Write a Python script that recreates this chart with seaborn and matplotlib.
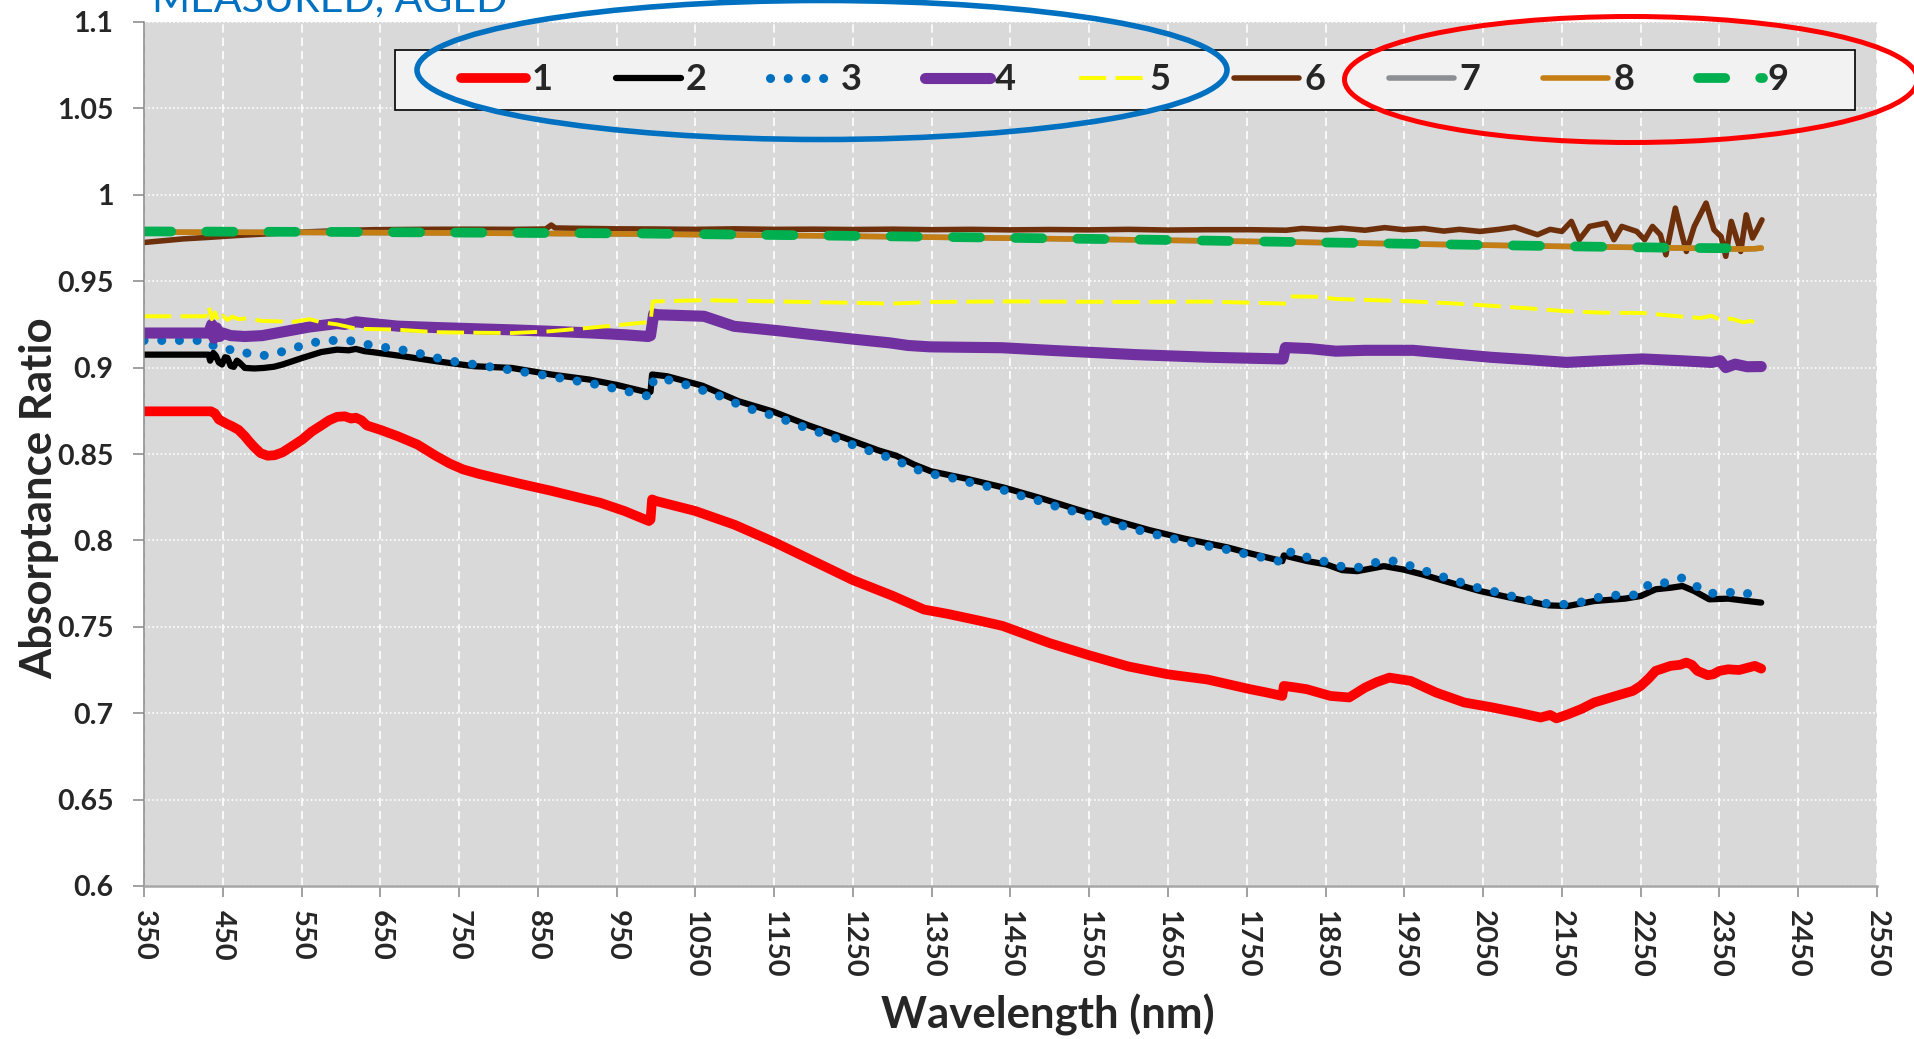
import matplotlib
matplotlib.use("Agg")
import matplotlib.pyplot as plt
import seaborn as sns
from matplotlib.patches import Ellipse, Rectangle

# ---- data ----
wl1 = [350, 435, 440, 445, 449, 455, 462, 470, 478, 484, 490, 498, 507, 516, 526, 538, 551, 563, 575,
       585, 595, 605, 613, 619, 626, 633, 650, 672, 697, 721, 738, 755, 775, 794, 830, 867, 900, 929,
       960, 991, 993, 995, 1000, 1050, 1100, 1150, 1200, 1250, 1300, 1340, 1370, 1411, 1440, 1470,
       1500, 1550, 1600, 1650, 1700, 1754, 1775, 1795, 1797, 1810, 1826, 1856, 1880, 1900, 1915, 1931,
       1958, 1990, 2026, 2060, 2094, 2123, 2135, 2143, 2158, 2175, 2191, 2215, 2240, 2250, 2260, 2269,
       2288, 2300, 2308, 2315, 2322, 2335, 2342, 2350, 2361, 2375, 2385, 2395, 2403]
ab1 = [0.8747, 0.8747, 0.8735, 0.8700, 0.8690, 0.8675, 0.8660, 0.8640, 0.8603, 0.8570, 0.8540, 0.8505,
       0.8490, 0.8493, 0.8510, 0.8545, 0.8584, 0.8630, 0.8665, 0.8695, 0.8715, 0.8718, 0.8705, 0.8710,
       0.8695, 0.8665, 0.8640, 0.8603, 0.8555, 0.8488, 0.8445, 0.8411, 0.8385, 0.8364, 0.8325, 0.8287,
       0.8250, 0.8218, 0.8170, 0.8112, 0.8120, 0.8237, 0.8228, 0.8170, 0.8090, 0.7990, 0.7880, 0.7770,
       0.7680, 0.7600, 0.7575, 0.7535, 0.7505, 0.7455, 0.7405, 0.7335, 0.7270, 0.7225, 0.7195, 0.7139,
       0.7120, 0.7100, 0.7158, 0.7150, 0.7139, 0.7100, 0.7091, 0.7148, 0.7180, 0.7206, 0.7187, 0.7120,
       0.7062, 0.7035, 0.7004, 0.6975, 0.6990, 0.6970, 0.6994, 0.7025, 0.7062, 0.7095, 0.7129, 0.7158,
       0.7200, 0.7245, 0.7274, 0.7280, 0.7293, 0.7280, 0.7245, 0.7220, 0.7225, 0.7245, 0.7254, 0.7250,
       0.7262, 0.7274, 0.7258]

wl2 = [350, 432, 434, 438, 441, 445, 449, 453, 456, 460, 464, 468, 471, 478, 490, 502, 515, 526, 551,
       575, 595, 610, 619, 630, 641, 680, 721, 769, 817, 867, 915, 950, 991, 993, 995, 1014, 1059, 1105,
       1149, 1194, 1238, 1283, 1305, 1327, 1349, 1396, 1442, 1488, 1534, 1579, 1626, 1671, 1725, 1754,
       1795, 1797, 1827, 1851, 1871, 1890, 1924, 1948, 1973, 1997, 2046, 2094, 2133, 2157, 2191, 2230,
       2250, 2269, 2288, 2303, 2318, 2337, 2361, 2386, 2403]
ab2 = [0.9075, 0.9075, 0.9040, 0.9085, 0.9070, 0.9030, 0.9018, 0.9060, 0.9056, 0.9010, 0.9004, 0.9040,
       0.9030, 0.8998, 0.8995, 0.8998, 0.9005, 0.9018, 0.9056, 0.9090, 0.9104, 0.9100, 0.9108, 0.9095,
       0.9089, 0.9065, 0.9037, 0.9008, 0.8998, 0.8960, 0.8931, 0.8900, 0.8855, 0.8860, 0.8960, 0.8950,
       0.8895, 0.8805, 0.8745, 0.8665, 0.8595, 0.8520, 0.8490, 0.8440, 0.8400, 0.8355, 0.8305, 0.8245,
       0.8180, 0.8120, 0.8060, 0.8010, 0.7960, 0.7925, 0.7880, 0.7913, 0.7880, 0.7861, 0.7828, 0.7822,
       0.7851, 0.7832, 0.7803, 0.7770, 0.7707, 0.7659, 0.7624, 0.7620, 0.7649, 0.7663, 0.7678, 0.7717,
       0.7726, 0.7736, 0.7707, 0.7659, 0.7663, 0.7649, 0.7640]

wl3 = [350, 430, 440, 455, 470, 480, 490, 502, 520, 541, 565, 585, 610, 641, 689, 734, 784, 853, 925,
       991, 993, 997, 1014, 1037, 1059, 1082, 1105, 1126, 1149, 1171, 1194, 1216, 1238, 1260, 1283,
       1305, 1327, 1349, 1373, 1396, 1420, 1442, 1465, 1488, 1511, 1534, 1557, 1579, 1602, 1626, 1649,
       1671, 1702, 1725, 1748, 1772, 1796, 1798, 1807, 1828, 1850, 1871, 1894, 1917, 1939, 1961, 1983,
       2005, 2028, 2049, 2072, 2093, 2115, 2136, 2159, 2181, 2202, 2223, 2245, 2262, 2283, 2302, 2319,
       2335, 2344, 2361, 2382, 2399]
ab3 = [0.9157, 0.9157, 0.9120, 0.9104, 0.9104, 0.9085, 0.9070, 0.9070, 0.9085, 0.9114, 0.9145, 0.9157,
       0.9157, 0.9127, 0.9094, 0.9042, 0.9008, 0.8960, 0.8902, 0.8834, 0.8850, 0.8931, 0.8931, 0.8902,
       0.8869, 0.8834, 0.8786, 0.8751, 0.8722, 0.8684, 0.8645, 0.8612, 0.8574, 0.8535, 0.8500, 0.8464,
       0.8416, 0.8385, 0.8365, 0.8338, 0.8313, 0.8290, 0.8256, 0.8227, 0.8192, 0.8163, 0.8130, 0.8101,
       0.8072, 0.8043, 0.8018, 0.7995, 0.7966, 0.7947, 0.7922, 0.7899, 0.7874, 0.7890, 0.7938, 0.7900,
       0.7877, 0.7848, 0.7844, 0.7877, 0.7881, 0.7848, 0.7813, 0.7780, 0.7749, 0.7717, 0.7697, 0.7668,
       0.7649, 0.7630, 0.7630, 0.7649, 0.7678, 0.7684, 0.7684, 0.7751, 0.7755, 0.7782, 0.7740, 0.7694,
       0.7694, 0.7701, 0.7684, 0.7722]

wl4 = [350, 432, 436, 439, 442, 446, 450, 460, 478, 500, 530, 560, 595, 605, 619, 640, 672, 720, 769,
       820, 867, 920, 960, 990, 993, 997, 1002, 1061, 1099, 1156, 1200, 1250, 1297, 1320, 1348, 1439,
       1500, 1609, 1700, 1796, 1799, 1830, 1863, 1900, 1961, 2010, 2059, 2110, 2156, 2200, 2253, 2300,
       2340, 2351, 2358, 2370, 2385, 2403]
ab4 = [0.9200, 0.9200, 0.9250, 0.9170, 0.9230, 0.9180, 0.9200, 0.9185, 0.9180, 0.9185, 0.9210, 0.9235,
       0.9255, 0.9250, 0.9265, 0.9255, 0.9240, 0.9232, 0.9225, 0.9218, 0.9210, 0.9200, 0.9190, 0.9180,
       0.9185, 0.9310, 0.9306, 0.9297, 0.9239, 0.9213, 0.9190, 0.9165, 0.9143, 0.9128, 0.9120, 0.9115,
       0.9100, 0.9075, 0.9060, 0.9050, 0.9116, 0.9110, 0.9095, 0.9100, 0.9100, 0.9080, 0.9060, 0.9045,
       0.9030, 0.9040, 0.9050, 0.9040, 0.9030, 0.9040, 0.9000, 0.9020, 0.9005, 0.9006]

wl5 = [350, 428, 432, 436, 440, 445, 450, 456, 462, 470, 480, 500, 540, 560, 575, 595, 620, 670, 720,
       769, 817, 865, 915, 950, 983, 993, 996, 1061, 1150, 1250, 1300, 1350, 1450, 1600, 1700, 1800,
       1805, 1840, 1863, 1900, 1961, 2010, 2059, 2110, 2156, 2200, 2253, 2290, 2326, 2340, 2350, 2365,
       2380, 2390, 2399]
ab5 = [0.9297, 0.9297, 0.9354, 0.9280, 0.9320, 0.9265, 0.9300, 0.9275, 0.9295, 0.9280, 0.9285, 0.9270,
       0.9265, 0.9280, 0.9262, 0.9250, 0.9225, 0.9220, 0.9205, 0.9202, 0.9200, 0.9210, 0.9230, 0.9245,
       0.9260, 0.9265, 0.9383, 0.9390, 0.9383, 0.9375, 0.9370, 0.9380, 0.9383, 0.9380, 0.9382, 0.9370,
       0.9412, 0.9410, 0.9397, 0.9392, 0.9383, 0.9372, 0.9358, 0.9342, 0.9326, 0.9318, 0.9316, 0.9300,
       0.9287, 0.9300, 0.9278, 0.9283, 0.9262, 0.9270, 0.9249]

wl6 = [350, 400, 430, 470, 514, 560, 600, 641, 700, 760, 820, 860, 867, 872, 900, 950, 1000, 1050,
       1100, 1150, 1200, 1250, 1300, 1350, 1400, 1450, 1500, 1550, 1600, 1650, 1700, 1754, 1800, 1820,
       1851, 1870, 1900, 1925, 1949, 1975, 2000, 2020, 2046, 2070, 2090, 2105, 2119, 2135, 2150, 2162,
       2172, 2185, 2206, 2216, 2226, 2245, 2255, 2265, 2275, 2282, 2294, 2303, 2308, 2318, 2333, 2343,
       2352, 2358, 2365, 2377, 2384, 2392, 2398, 2404]
ab6 = [0.9724, 0.9745, 0.9753, 0.9765, 0.9776, 0.9786, 0.9793, 0.9798, 0.9800, 0.9801, 0.9800, 0.9802,
       0.9825, 0.9808, 0.9806, 0.9803, 0.9802, 0.9800, 0.9803, 0.9800, 0.9801, 0.9799, 0.9801, 0.9798,
       0.9800, 0.9797, 0.9799, 0.9797, 0.9800, 0.9796, 0.9798, 0.9798, 0.9795, 0.9805, 0.9798, 0.9807,
       0.9795, 0.9810, 0.9798, 0.9805, 0.9790, 0.9800, 0.9788, 0.9800, 0.9813, 0.9790, 0.9769, 0.9800,
       0.9788, 0.9846, 0.9740, 0.9817, 0.9836, 0.9740, 0.9817, 0.9788, 0.9740, 0.9817, 0.9769, 0.9653,
       0.9923, 0.9759, 0.9672, 0.9817, 0.9952, 0.9798, 0.9759, 0.9644, 0.9846, 0.9672, 0.9884, 0.9750,
       0.9800, 0.9855]

wl8 = [350, 500, 700, 980, 1200, 1400, 1600, 1754, 1950, 2156, 2300, 2380, 2395, 2403]
ab8 = [0.9784, 0.9783, 0.9780, 0.9773, 0.9763, 0.9752, 0.9740, 0.9730, 0.9716, 0.9701, 0.9692, 0.9686,
       0.9688, 0.9692]

# series 7 lies exactly under series 8 in the reference
wl7 = wl8
ab7 = ab8

wl9 = [350, 600, 980, 1200, 1400, 1600, 1754, 1950, 2156, 2300, 2381]
ab9 = [0.9788, 0.9785, 0.9776, 0.9765, 0.9754, 0.9742, 0.9731, 0.9717, 0.9702, 0.9693, 0.9690]

labels = ['1', '2', '3', '4', '5', '6', '7', '8', '9']
x_ticks = list(range(350, 2551, 100))
y_ticks = [0.6, 0.65, 0.7, 0.75, 0.8, 0.85, 0.9, 0.95, 1.0, 1.05, 1.1]
y_tick_labels = ['0.6', '0.65', '0.7', '0.75', '0.8', '0.85', '0.9', '0.95', '1', '1.05', '1.1']

# ---- figure ----
W, H = 1915, 1039


def fx(px):
    return px / W


def fy(py):
    return 1 - py / H


sns.set_style("white")
plt.rcParams['font.family'] = ['Lato', 'DejaVu Sans']
plt.rcParams['font.weight'] = 'bold'

fig = plt.figure(figsize=(W / 100, H / 100), dpi=100)
ax = fig.add_axes([fx(144), fy(886), (1877 - 144) / W, (886 - 22) / H])
ax.set_facecolor('#D9D9D9')

styles = [
    dict(color='#FF0000', lw=7, solid_capstyle='round', solid_joinstyle='round'),
    dict(color='#000000', lw=4.5, solid_capstyle='round', solid_joinstyle='round'),
    dict(color='#0070C0', lw=6.5, linestyle=(0, (0.01, 1.95)), dash_capstyle='round'),
    dict(color='#7030A0', lw=8, solid_capstyle='round', solid_joinstyle='round'),
    dict(color='#FFFF00', lw=2.8, linestyle=(0, (7, 2.4))),
    dict(color='#6E300B', lw=4, solid_capstyle='round', solid_joinstyle='round'),
    dict(color='#8C9094', lw=4, solid_capstyle='round'),
    dict(color='#C57E13', lw=4, solid_capstyle='round'),
    dict(color='#00B050', lw=7, linestyle=(0, (2.8, 3.6)), dash_capstyle='round'),
]
series = [(wl1, ab1), (wl2, ab2), (wl3, ab3), (wl4, ab4), (wl5, ab5),
          (wl6, ab6), (wl7, ab7), (wl8, ab8), (wl9, ab9)]

for (wl, ab), st in zip(series, styles):
    sns.lineplot(x=wl, y=ab, ax=ax, estimator=None, sort=False, **st)

ax.set_xlim(350, 2550)
ax.set_ylim(0.6, 1.1)
ax.set_xticks(x_ticks)
ax.set_xticklabels([str(t) for t in x_ticks], rotation=270, fontsize=21)
ax.set_yticks(y_ticks)
ax.set_yticklabels(y_tick_labels, fontsize=20.5)

ax.set_axisbelow(True)
ax.grid(axis='x', color='white', linestyle=(0, (5, 3)), lw=1.2)
ax.grid(axis='y', color='white', linestyle=(0, (1, 1.5)), lw=1.2)

for s in ['top', 'right']:
    ax.spines[s].set_visible(False)
ax.spines['left'].set_color('#868686')
ax.spines['left'].set_linewidth(1.1)
ax.spines['bottom'].set_color('#A6A6A6')
ax.spines['bottom'].set_linewidth(1.8)
ax.tick_params(axis='both', direction='out', length=8, width=1.1, color='#868686', left=True, bottom=True)
ax.tick_params(axis='x', pad=9)
ax.tick_params(axis='y', pad=14)

ax.set_ylabel('Absorptance Ratio', fontsize=31.5, fontweight='bold')
ax.yaxis.set_label_coords((39 - 144) / 1733, 1 - (498 - 22) / 864)
ax.yaxis.label.set_va('center')
ax.set_xlabel('Wavelength (nm)', fontsize=31.5, fontweight='bold')
ax.xaxis.set_label_coords((1048 - 144) / 1733, -(1015 - 886) / 864)
ax.xaxis.label.set_va('center')

# legend inside a grey box
ax.add_patch(Rectangle((fx(395), fy(110)), (1855 - 395) / W, 60 / H, transform=fig.transFigure,
                       facecolor='#F2F2F2', edgecolor='black', lw=1.2, zorder=4.5, clip_on=False))
ax.legend(ax.get_lines()[:9], labels, ncol=9, loc='center',
          bbox_to_anchor=(fx(1125), fy(80)), bbox_transform=fig.transFigure,
          frameon=False, prop=dict(family='Lato', weight='bold', size=26),
          handlelength=1.8, handletextpad=0.15, columnspacing=1.75,
          borderpad=0, borderaxespad=0)

# heading sits partly above the top edge, as in the reference
fig.text(fx(152), fy(11), 'MEASURED, AGED', color='#0070C0', fontsize=29.5,
         fontweight='normal', va='baseline', ha='left')

fig.add_artist(Ellipse((fx(822), fy(70)), 810 / W, 139 / H, transform=fig.transFigure,
                       fill=False, edgecolor='#0070C0', lw=4))
fig.add_artist(Ellipse((fx(1631), fy(79.5)), 573 / W, 126 / H, transform=fig.transFigure,
                       fill=False, edgecolor='#FF0000', lw=3.6))

fig.savefig('out.png', dpi=100)
